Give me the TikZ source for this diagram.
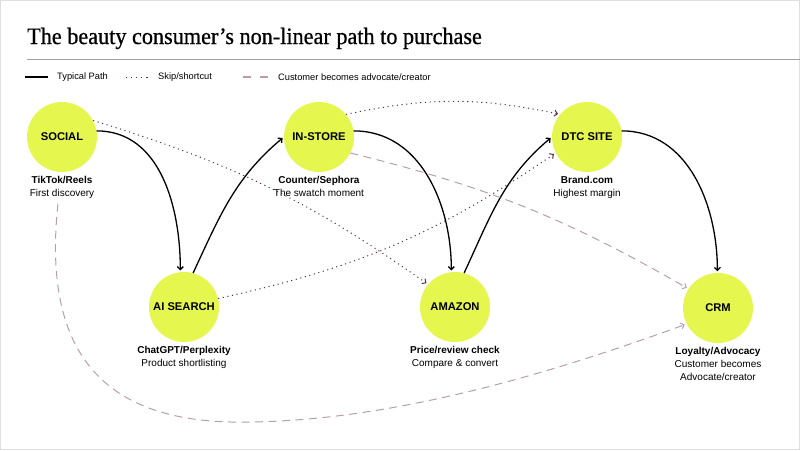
\documentclass[tikz,border=0pt]{standalone}
\usepackage{fontspec}
\setmainfont{Liberation Serif}
\setsansfont{Liberation Sans}
\newfontfamily\titlefont{Liberation Serif}[FakeBold=0.7, Ligatures=TeX]
\usetikzlibrary{arrows.meta, positioning}
\definecolor{stagelime}{RGB}{229,247,78}
\definecolor{skipplum}{RGB}{92,45,66}
\definecolor{advmauve}{RGB}{185,158,168}
\definecolor{rulegray}{RGB}{160,160,160}

\begin{document}
\begin{tikzpicture}[x=1pt, y=-1pt,
    stage/.style={circle, fill=stagelime, minimum size=70pt, inner sep=0pt,
        font=\sffamily\bfseries\fontsize{11.2}{12}\selectfont},
    caption/.style={align=center, inner sep=0pt,
        font=\sffamily\fontsize{10}{12.8}\selectfont},
    legendtxt/.style={anchor=west, inner sep=0pt,
        font=\sffamily\fontsize{9.3}{10}\selectfont},
    typical/.style={-{Straight Barb[length=3pt,width=6pt]}, line width=1.3pt, black, shorten >=1.5pt},
    skip/.style={-{Straight Barb[length=3pt,width=6pt]}, line width=1pt, skipplum,
        dash pattern=on 1.1pt off 3.6pt, shorten >=2pt},
    advocate/.style={-{Straight Barb[length=3pt,width=6pt]}, line width=1pt, advmauve,
        dash pattern=on 8pt off 5.5pt, shorten >=2pt}
]
    \useasboundingbox (0,0) rectangle (800,450);
    \draw[gray!25, line width=1pt] (0.5,0.5) rectangle (799.5,449.5);

    % Title
    \node[anchor=base west, inner sep=0pt, font=\titlefont\fontsize{23.5}{26}\selectfont] (title) at (27,44)
        {\scalebox{0.945}[1]{The beauty consumer’s non-linear path to purchase}};
    \draw[rulegray, line width=0.7pt] (27,59) -- (800,59);

    % Legend
    \coordinate (lgA) at (25,77);   \coordinate (lgB) at (48,77);
    \coordinate (lgC) at (126,77);  \coordinate (lgD) at (150,77);
    \coordinate (lgE) at (243,77);  \coordinate (lgF) at (268,77);
    \draw[black, line width=1.6pt] (lgA) -- (lgB);
    \node[legendtxt] at (57,77) {Typical Path};
    \draw[skipplum, line width=1pt, dash pattern=on 1.1pt off 4pt] (lgC) -- (lgD);
    \node[legendtxt] at (158,77) {Skip/shortcut};
    \draw[advmauve, line width=1.2pt, dash pattern=on 8pt off 9pt] (lgE) -- (lgF);
    \node[legendtxt] at (278,77) {Customer becomes advocate/creator};

    % Stages
    \node[stage] (social)   at (62,137)  {SOCIAL};
    \node[stage] (instore)  at (319,137) {IN-STORE};
    \node[stage] (dtc)      at (587,137) {DTC SITE};
    \node[stage] (aisearch) at (184,307) {AI SEARCH};
    \node[stage] (amazon)   at (455,307) {AMAZON};
    \node[stage] (crm)      at (718,308) {CRM};

    \node[caption, below=4pt of social]   (socialtxt)   {\textbf{TikTok/Reels}\\First discovery};
    \node[caption, below=4pt of instore]  (instoretxt)  {\textbf{Counter/Sephora}\\The swatch moment};
    \node[caption, below=4pt of dtc]      (dtctxt)      {\textbf{Brand.com}\\Highest margin};
    \node[caption, below=4pt of aisearch] (aisearchtxt) {\textbf{ChatGPT/Perplexity}\\Product shortlisting};
    \node[caption, below=4pt of amazon]   (amazontxt)   {\textbf{Price/review check}\\Compare \& convert};
    \node[caption, below=4pt of crm]      (crmtxt)      {\textbf{Loyalty/Advocacy}\\Customer becomes\\Advocate/creator};

    % Typical path
    \draw[typical] (social.10)   to[out=0, in=90]   (aisearch.96);
    \draw[typical] (aisearch.75) to[out=65, in=220] (instore.180);
    \draw[typical] (instore.10)  to[out=0, in=90]   (amazon.96);
    \draw[typical] (amazon.75)   to[out=65, in=220] (dtc.180);
    \draw[typical] (dtc.10)      to[out=0, in=90]   (crm.91);

    % Shortcuts
    \draw[skip] (social.28)   to[bend left=9]   (amazon.140);
    \draw[skip] (instore.40)  to[bend left=12]  (dtc.140);
    \draw[skip] (aisearch.14) to[bend right=11] (dtc.207);

    % Advocacy loops
    \draw[advocate] (instore.333) to[bend left=8] (crm.147);
    \draw[advocate] ([xshift=-4pt, yshift=-5pt]socialtxt.south)
        .. controls (40,370) and (120,425) .. (250,422)
        .. controls (400,420) and (560,370) .. (crm.207);
\end{tikzpicture}
\end{document}
